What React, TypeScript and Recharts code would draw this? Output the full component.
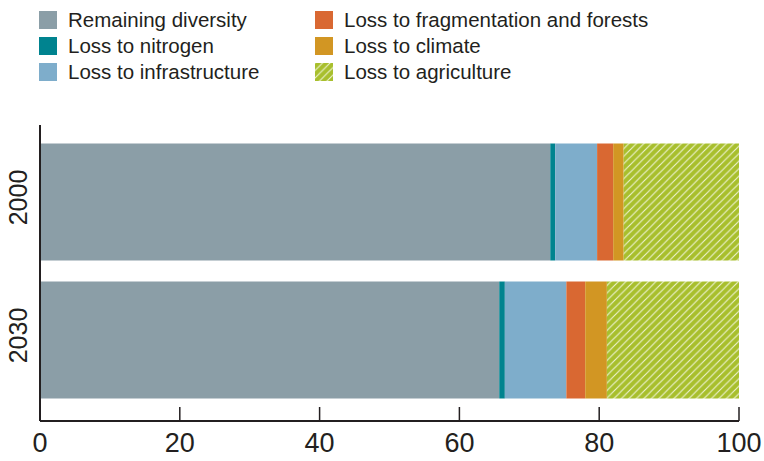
import { Bar, BarChart, XAxis, YAxis } from "recharts";

const years = ["2000", "2030"];
const remaining = [73.0, 65.7];
const nitrogen = [0.7, 0.8];
const infrastructure = [6.0, 8.8];
const fragmentation = [2.3, 2.7];
const climate = [1.5, 3.1];
const agriculture = [16.5, 18.9];
const xTicks = [0, 20, 40, 60, 80, 100];

const INK = "#231f20";
const FONT = "'Liberation Sans', Arial, sans-serif";

const series = [
  { key: "remaining", name: "Remaining diversity", color: "#8b9ea7", values: remaining },
  { key: "nitrogen", name: "Loss to nitrogen", color: "#00838f", values: nitrogen },
  { key: "infrastructure", name: "Loss to infrastructure", color: "#7eadcb", values: infrastructure },
  { key: "fragmentation", name: "Loss to fragmentation and forests", color: "#d96832", values: fragmentation },
  { key: "climate", name: "Loss to climate", color: "#d29623", values: climate },
  { key: "agriculture", name: "Loss to agriculture", color: "url(#agriHatch)", values: agriculture },
];

const data = years.map((year, i) => {
  const row: Record<string, string | number> = { year };
  series.forEach((s) => (row[s.key] = s.values[i]));
  return row;
});

// legend is laid out in two columns, three rows each
const legendCols = [series.slice(0, 3), series.slice(3)];

const HATCH = 7.5;
const Hatch = ({ id }: { id: string }) => (
  <pattern id={id} patternUnits="userSpaceOnUse" width={HATCH} height={HATCH}>
    <rect width={HATCH} height={HATCH} fill="#a8bf2d" />
    <path
      d={`M-2,2 l4,-4 M0,${HATCH} l${HATCH},-${HATCH} M${HATCH - 2},${HATCH + 2} l4,-4`}
      stroke="#eef3d2"
      strokeWidth={1.1}
    />
  </pattern>
);

const XTick = ({ x, y, payload }: any) => (
  <g>
    <line x1={x} x2={x} y1={y - 14} y2={y} stroke={INK} strokeWidth={1.5} />
    <text
      x={x}
      y={y + 22}
      textAnchor="middle"
      dominantBaseline="central"
      fontSize={27}
      fontFamily={FONT}
      fill={INK}
    >
      {payload.value}
    </text>
  </g>
);

const YTick = ({ y, payload }: any) => (
  <text
    x={18}
    y={y - 4}
    transform={`rotate(-90 18 ${y - 4})`}
    textAnchor="middle"
    dominantBaseline="central"
    fontSize={25}
    fontFamily={FONT}
    fill={INK}
  >
    {payload.value}
  </text>
);

const LegendBlock = () => (
  <div style={{ position: "absolute", left: 0, top: 0, fontFamily: FONT, fontSize: 20.5, color: INK }}>
    {legendCols.map((col, ci) => (
      <div key={ci} style={{ position: "absolute", left: ci === 0 ? 39 : 315, top: 0 }}>
        {col.map((s, ri) => (
          <div
            key={s.key}
            style={{ position: "absolute", top: 11 + ri * 26, left: 0, display: "flex", alignItems: "center", whiteSpace: "nowrap" }}
          >
            <svg width={18} height={18} style={{ display: "block" }}>
              <defs>
                <Hatch id={`legendHatch${ri}${ci}`} />
              </defs>
              <rect width={18} height={18} fill={s.key === "agriculture" ? `url(#legendHatch${ri}${ci})` : s.color} />
            </svg>
            <span style={{ marginLeft: 11, lineHeight: "18px" }}>{s.name}</span>
          </div>
        ))}
      </div>
    ))}
  </div>
);

export default function App() {
  return (
    <div style={{ position: "absolute", left: 0, top: 0, width: 764, height: 461, background: "#fff" }}>
      <LegendBlock />
      <BarChart
        width={764}
        height={461}
        data={data}
        layout="vertical"
        margin={{ top: 125, right: 25, bottom: 0, left: 0 }}
      >
        <defs>
          <Hatch id="agriHatch" />
        </defs>
        <XAxis
          type="number"
          domain={[0, 100]}
          ticks={xTicks}
          height={40}
          axisLine={{ stroke: INK, strokeWidth: 2 }}
          tickLine={false}
          tickSize={0}
          tickMargin={0}
          tick={<XTick />}
          interval={0}
        />
        <YAxis
          type="category"
          dataKey="year"
          width={40}
          padding={{ top: 7.5, bottom: 12.5 }}
          axisLine={{ stroke: INK, strokeWidth: 2 }}
          tickLine={false}
          tickSize={0}
          tickMargin={0}
          tick={<YTick />}
        />
        {series.map((s) => (
          <Bar key={s.key} dataKey={s.key} name={s.name} stackId="a" fill={s.color} barSize={117} isAnimationActive={false} />
        ))}
      </BarChart>
    </div>
  );
}
